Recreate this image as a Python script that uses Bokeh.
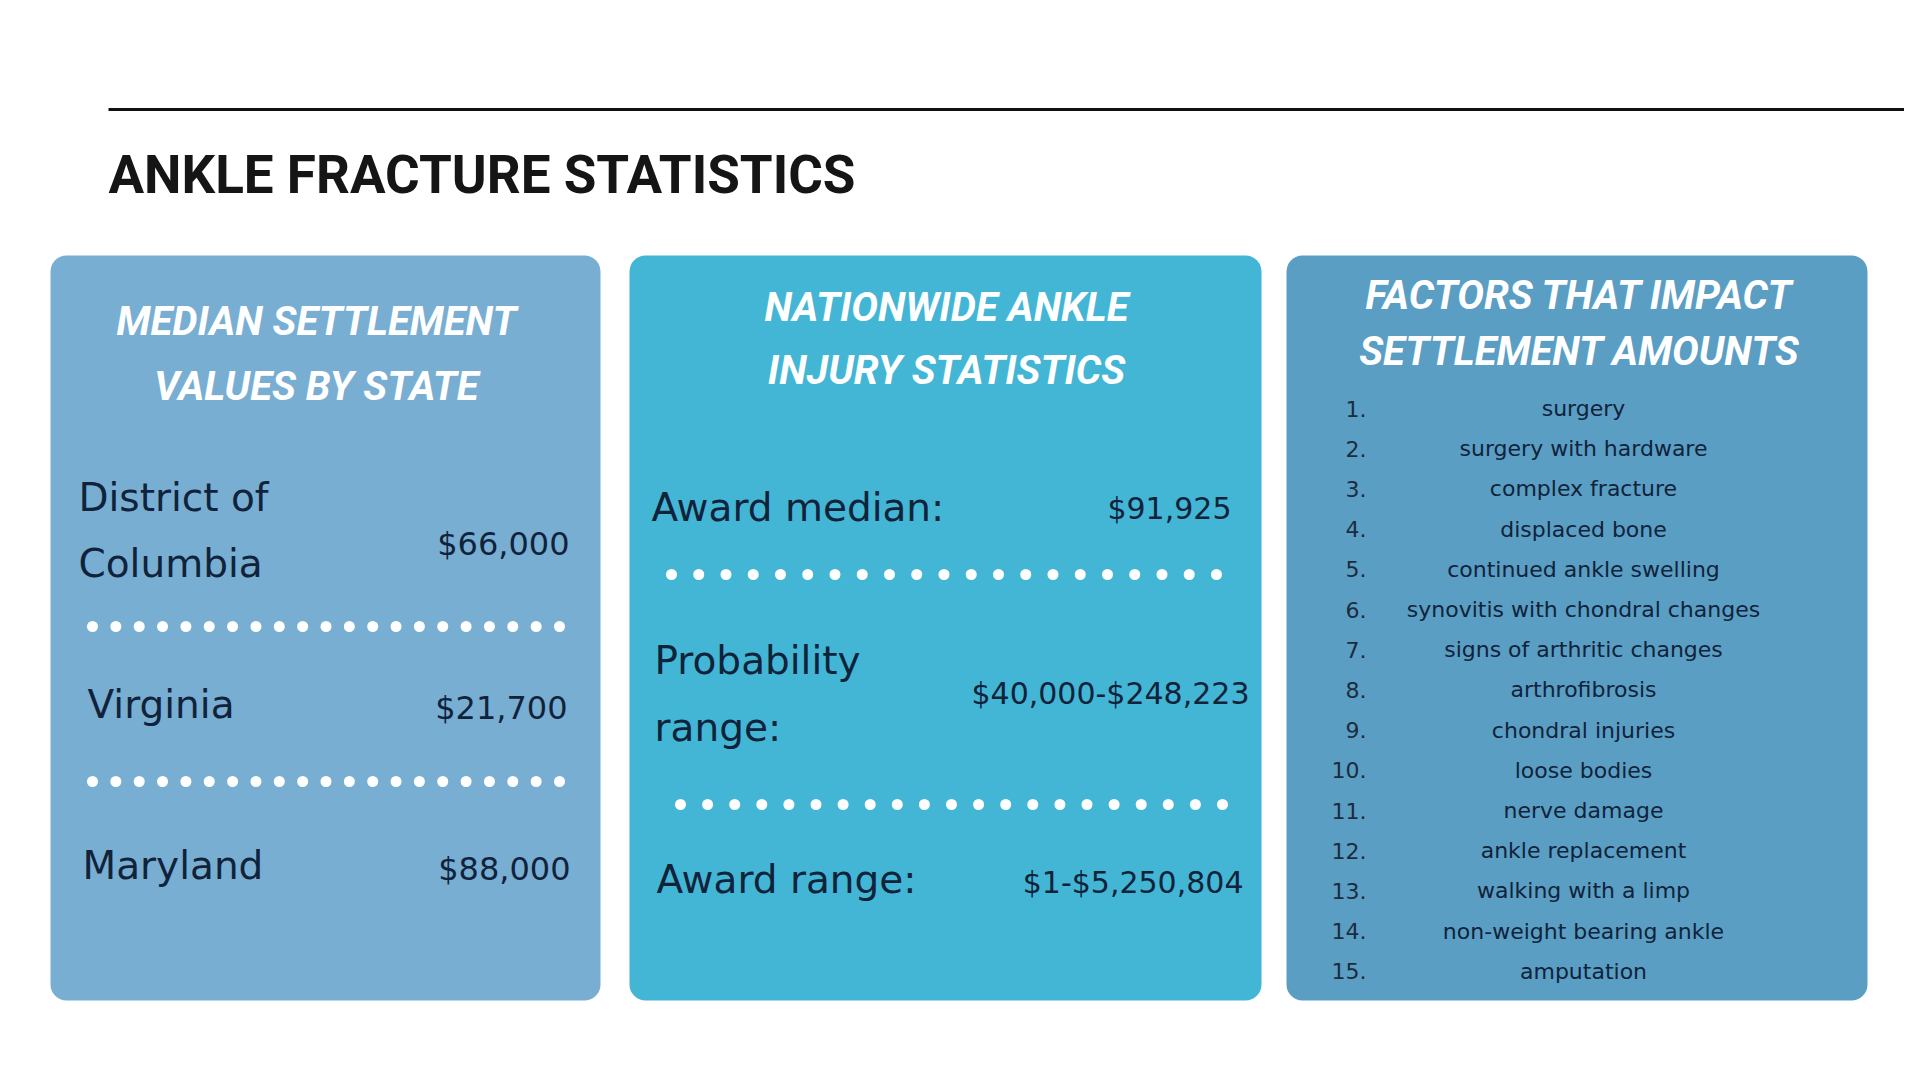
from bokeh.plotting import figure
from bokeh.models import Range1d
from bokeh.core.properties import value
from bokeh.embed import file_html
from bokeh.resources import INLINE
import numpy as np

# ---------------- data ----------------
title = "ANKLE FRACTURE STATISTICS"
panel_titles = [["MEDIAN SETTLEMENT", "VALUES BY STATE"],
                ["NATIONWIDE ANKLE", "INJURY STATISTICS"],
                ["FACTORS THAT IMPACT", "SETTLEMENT AMOUNTS"]]
states = ["District of\nColumbia", "Virginia", "Maryland"]
state_values = ["$66,000", "$21,700", "$88,000"]
stat_labels = ["Award median:", "Probability\nrange:", "Award range:"]
stat_values = ["$91,925", "$40,000-$248,223", "$1-$5,250,804"]
factors = ["surgery", "surgery with hardware", "complex fracture", "displaced bone",
           "continued ankle swelling", "synovitis with chondral changes",
           "signs of arthritic changes", "arthrofibrosis", "chondral injuries",
           "loose bodies", "nerve damage", "ankle replacement", "walking with a limp",
           "non-weight bearing ankle", "amputation"]
panel_colors = ["#79aed3", "#43b6d5", "#5a9ec4"]

# ---------------- layout ----------------
TEXT_DARK = "#10233a"
BODY_FONT = value("DejaVu Sans")
HEAD_FONT = value("Roboto")

p = figure(width=1904, height=1064, x_range=Range1d(0, 1904), y_range=Range1d(1064, 0),
           output_backend="svg", toolbar_location=None, min_border=0,
           background_fill_color="white", border_fill_color="white")
p.outline_line_color = None
p.axis.visible = False
p.grid.visible = False

# top rule and title
p.segment(x0=[108], y0=[109], x1=[1920], y1=[109], line_width=3, line_color="#111111")
p.text(x=[108], y=[174], text=[title], text_font=HEAD_FONT, text_font_style="bold",
       text_font_size="53px", text_color="#151515", text_align="left", text_baseline="middle")

# panels
panel_left = [50, 629, 1286]
panel_right = [600, 1261, 1867]
p.quad(left=panel_left, right=panel_right, top=[255] * 3, bottom=[1000] * 3,
       fill_color=panel_colors, line_color=None, border_radius=16)

# panel headings
head_centers = [316, 946, 1579]
head_ys = [[321, 386], [307, 370], [295, 351]]
hx, hy, ht = [], [], []
for c, ys, lines in zip(head_centers, head_ys, panel_titles):
    for y, t in zip(ys, lines):
        hx.append(c); hy.append(y); ht.append(t)
p.text(x=hx, y=hy, text=ht, text_font=HEAD_FONT, text_font_style="bold italic",
       text_font_size="40px", text_color="white", text_align="center", text_baseline="middle")

# panel 1: states
label_x1 = [78, 87, 82]
label_y1 = [497, 704, 865]
value_x1 = [569, 567, 570]
value_y1 = [543, 707, 868]
lx, ly, lt = [], [], []
for x, y, s in zip(label_x1, label_y1, states):
    for k, line in enumerate(s.split("\n")):
        lx.append(x); ly.append(y + k * 66); lt.append(line)
p.text(x=lx, y=ly, text=lt, text_font=BODY_FONT, text_font_size="39px",
       text_color=TEXT_DARK, text_align="left", text_baseline="middle")
p.text(x=value_x1, y=value_y1, text=state_values, text_font=BODY_FONT, text_font_size="32px",
       text_color=TEXT_DARK, text_align="right", text_baseline="middle")

# panel 2: national stats
label_x2 = [651, 654, 656]
label_y2 = [507, 660, 879]
value_x2 = [1231, 1249, 1243]
value_y2 = [508, 693, 882]
lx, ly, lt = [], [], []
for x, y, s in zip(label_x2, label_y2, stat_labels):
    for k, line in enumerate(s.split("\n")):
        lx.append(x); ly.append(y + k * 67); lt.append(line)
p.text(x=lx, y=ly, text=lt, text_font=BODY_FONT, text_font_size="39px",
       text_color=TEXT_DARK, text_align="left", text_baseline="middle")
p.text(x=value_x2, y=value_y2, text=stat_values, text_font=BODY_FONT, text_font_size="30px",
       text_color=TEXT_DARK, text_align="right", text_baseline="middle")

# dotted separators
dot_rows = [(92, 559, 626), (92, 559, 781), (671, 1216, 574), (680, 1222, 804)]
dx, dy = [], []
for x0, x1, y in dot_rows:
    xs = np.linspace(x0, x1, 21)
    dx.extend(xs.tolist()); dy.extend([y] * len(xs))
p.scatter(x=dx, y=dy, size=11, marker="circle", fill_color="white", line_color=None)

# panel 3: factor list
n = len(factors)
fy = [408 + i * 40.2 for i in range(n)]
nums = [f"{i + 1}." for i in range(n)]
p.text(x=[1366] * n, y=fy, text=nums, text_font=BODY_FONT, text_font_size="22px",
       text_color="#1b2c3d", text_align="right", text_baseline="middle")
p.text(x=[1583] * n, y=fy, text=factors, text_font=BODY_FONT, text_font_size="22px",
       text_color=TEXT_DARK, text_align="center", text_baseline="middle")

open("out.html", "w").write(file_html(p, INLINE))
